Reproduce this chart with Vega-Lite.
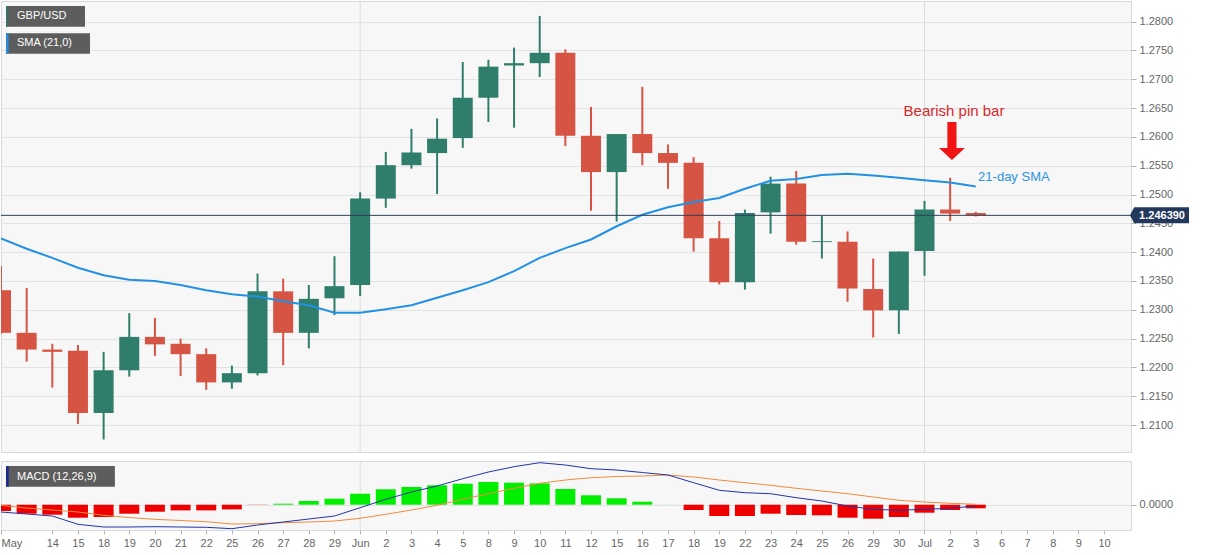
{
  "$schema": "https://vega.github.io/schema/vega-lite/v6.json",
  "padding": 0,
  "background": "#ffffff",
  "spacing": 7,
  "datasets": {
    "days": [
      {"i":0,"d":"2020-05-12","open":1.2334,"high":1.2376,"low":1.2258,"close":1.2260,"sma":1.2424,"macd":-0.00073,"signal":-0.00006,"hist":-0.00063},
      {"i":1,"d":"2020-05-13","open":1.2260,"high":1.2338,"low":1.2210,"close":1.2231,"sma":1.2406,"macd":-0.00093,"signal":-0.00033,"hist":-0.0009},
      {"i":2,"d":"2020-05-14","open":1.2231,"high":1.2241,"low":1.2165,"close":1.2227,"sma":1.2390,"macd":-0.00113,"signal":-0.00053,"hist":-0.001},
      {"i":3,"d":"2020-05-15","open":1.2229,"high":1.2239,"low":1.2102,"close":1.2121,"sma":1.2373,"macd":-0.00196,"signal":-0.00073,"hist":-0.0013},
      {"i":4,"d":"2020-05-18","open":1.2121,"high":1.2227,"low":1.2075,"close":1.2195,"sma":1.2360,"macd":-0.00223,"signal":-0.00106,"hist":-0.00123},
      {"i":5,"d":"2020-05-19","open":1.2195,"high":1.2294,"low":1.2184,"close":1.2253,"sma":1.2352,"macd":-0.00223,"signal":-0.00128,"hist":-0.0009},
      {"i":6,"d":"2020-05-20","open":1.2253,"high":1.2286,"low":1.2220,"close":1.2240,"sma":1.2350,"macd":-0.0022,"signal":-0.00146,"hist":-0.0007},
      {"i":7,"d":"2020-05-21","open":1.2241,"high":1.2250,"low":1.2185,"close":1.2223,"sma":1.2343,"macd":-0.00223,"signal":-0.00158,"hist":-0.00057},
      {"i":8,"d":"2020-05-22","open":1.2223,"high":1.2233,"low":1.2161,"close":1.2174,"sma":1.2334,"macd":-0.00226,"signal":-0.0017,"hist":-0.00057},
      {"i":9,"d":"2020-05-25","open":1.2174,"high":1.2203,"low":1.2163,"close":1.2190,"sma":1.2327,"macd":-0.0024,"signal":-0.00193,"hist":-0.00047},
      {"i":10,"d":"2020-05-26","open":1.2190,"high":1.2363,"low":1.2186,"close":1.2332,"sma":1.2323,"macd":-0.00203,"signal":-0.0019,"hist":-0.00002},
      {"i":11,"d":"2020-05-27","open":1.2332,"high":1.2354,"low":1.2204,"close":1.2260,"sma":1.2315,"macd":-0.00173,"signal":-0.0018,"hist":0.0001},
      {"i":12,"d":"2020-05-28","open":1.2260,"high":1.2343,"low":1.2233,"close":1.2319,"sma":1.2308,"macd":-0.00143,"signal":-0.00173,"hist":0.00037},
      {"i":13,"d":"2020-05-29","open":1.2320,"high":1.2393,"low":1.2291,"close":1.2341,"sma":1.2295,"macd":-0.00113,"signal":-0.00163,"hist":0.0006},
      {"i":14,"d":"2020-06-01","open":1.2343,"high":1.2504,"low":1.2324,"close":1.2493,"sma":1.2295,"macd":-0.0003,"signal":-0.00136,"hist":0.0011},
      {"i":15,"d":"2020-06-02","open":1.2493,"high":1.2574,"low":1.2477,"close":1.2551,"sma":1.2301,"macd":0.00054,"signal":-0.00096,"hist":0.00154},
      {"i":16,"d":"2020-06-03","open":1.2551,"high":1.2614,"low":1.2545,"close":1.2573,"sma":1.2308,"macd":0.00127,"signal":-0.00053,"hist":0.00177},
      {"i":17,"d":"2020-06-04","open":1.2572,"high":1.2632,"low":1.2501,"close":1.2597,"sma":1.2321,"macd":0.00187,"signal":-0.00006,"hist":0.00194},
      {"i":18,"d":"2020-06-05","open":1.2598,"high":1.2730,"low":1.2581,"close":1.2668,"sma":1.2334,"macd":0.0026,"signal":0.00054,"hist":0.0021},
      {"i":19,"d":"2020-06-08","open":1.2668,"high":1.2734,"low":1.2626,"close":1.2722,"sma":1.2348,"macd":0.00327,"signal":0.0011,"hist":0.00227},
      {"i":20,"d":"2020-06-09","open":1.2724,"high":1.2755,"low":1.2616,"close":1.2728,"sma":1.2367,"macd":0.0038,"signal":0.00164,"hist":0.0022},
      {"i":21,"d":"2020-06-10","open":1.2728,"high":1.2810,"low":1.2704,"close":1.2746,"sma":1.2390,"macd":0.0042,"signal":0.00214,"hist":0.00213},
      {"i":22,"d":"2020-06-11","open":1.2746,"high":1.2752,"low":1.2584,"close":1.2602,"sma":1.2407,"macd":0.00397,"signal":0.00247,"hist":0.00157},
      {"i":23,"d":"2020-06-12","open":1.2602,"high":1.2652,"low":1.2472,"close":1.2539,"sma":1.2422,"macd":0.0036,"signal":0.0027,"hist":0.00094},
      {"i":24,"d":"2020-06-15","open":1.2539,"high":1.2605,"low":1.2453,"close":1.2605,"sma":1.2445,"macd":0.00347,"signal":0.00282,"hist":0.00064},
      {"i":25,"d":"2020-06-16","open":1.2605,"high":1.2687,"low":1.2551,"close":1.2572,"sma":1.2465,"macd":0.00322,"signal":0.00287,"hist":0.0003},
      {"i":26,"d":"2020-06-17","open":1.2572,"high":1.2587,"low":1.2510,"close":1.2555,"sma":1.2478,"macd":0.00297,"signal":0.00297,"hist":0.00001},
      {"i":27,"d":"2020-06-18","open":1.2555,"high":1.2565,"low":1.2401,"close":1.2424,"sma":1.2487,"macd":0.0022,"signal":0.00277,"hist":-0.00053},
      {"i":28,"d":"2020-06-19","open":1.2424,"high":1.2454,"low":1.2344,"close":1.2348,"sma":1.2494,"macd":0.00144,"signal":0.00247,"hist":-0.00113},
      {"i":29,"d":"2020-06-22","open":1.2348,"high":1.2474,"low":1.2335,"close":1.2468,"sma":1.2510,"macd":0.0012,"signal":0.0022,"hist":-0.00113},
      {"i":30,"d":"2020-06-23","open":1.2469,"high":1.2531,"low":1.2432,"close":1.2519,"sma":1.2524,"macd":0.0011,"signal":0.00194,"hist":-0.0009},
      {"i":31,"d":"2020-06-24","open":1.2519,"high":1.2541,"low":1.2413,"close":1.2418,"sma":1.2527,"macd":0.0007,"signal":0.00164,"hist":-0.00103},
      {"i":32,"d":"2020-06-25","open":1.24175,"high":1.2463,"low":1.2389,"close":1.2419,"sma":1.2534,"macd":0.00037,"signal":0.00137,"hist":-0.00106},
      {"i":33,"d":"2020-06-26","open":1.2418,"high":1.2436,"low":1.2314,"close":1.2337,"sma":1.2536,"macd":-0.00013,"signal":0.0011,"hist":-0.0013},
      {"i":34,"d":"2020-06-29","open":1.2336,"high":1.2389,"low":1.2252,"close":1.2299,"sma":1.2533,"macd":-0.00046,"signal":0.00077,"hist":-0.0014},
      {"i":35,"d":"2020-06-30","open":1.2299,"high":1.2401,"low":1.2258,"close":1.2401,"sma":1.2529,"macd":-0.00056,"signal":0.00044,"hist":-0.00123},
      {"i":36,"d":"2020-07-01","open":1.2402,"high":1.2489,"low":1.2359,"close":1.2474,"sma":1.2525,"macd":-0.00046,"signal":0.00027,"hist":-0.0008},
      {"i":37,"d":"2020-07-02","open":1.2474,"high":1.2529,"low":1.2454,"close":1.2467,"sma":1.2521,"macd":-0.00036,"signal":0.00014,"hist":-0.00053},
      {"i":38,"d":"2020-07-03","open":1.2468,"high":1.2470,"low":1.2462,"close":1.24639,"sma":1.2514,"macd":-0.00013,"signal":0.00004,"hist":-0.00036}
    ],
    "months": [{"i":14,"m":"Jun"},{"i":36,"m":"Jul"}],
    "last": [{"price":1.24639,"label":"1.246390"}]
  },
  "config": {
    "view": {"fill": "#f7f7f7", "stroke": "#d6d9e0", "strokeWidth": 1},
    "axis": {"labelFont": "Liberation Sans", "labelFontSize": 11, "labelColor": "#666666", "tickColor": "#b5b5b5", "gridColor": "#e3e3e3", "domain": false, "labelOverlap": false}
  },
  "resolve": {"scale": {"x": "independent", "y": "independent"}},
  "vconcat": [
    {
      "width": 1130,
      "height": 451,
      "layer": [
        {
          "data": {"name": "months"},
          "mark": {"type": "rule", "color": "#dcdcdc", "strokeWidth": 1},
          "encoding": {
            "x": {"field": "i", "type": "quantitative", "scale": {"domain": [0, 44.05], "nice": false, "zero": false, "padding": 0}, "axis": null}
          }
        },
        {
          "data": {"name": "days"},
          "mark": {"type": "rule", "strokeWidth": 2, "clip": true},
          "encoding": {
            "x": {"field": "i", "type": "quantitative", "axis": null, "scale": {"domain": [0, 44.05], "nice": false, "zero": false, "padding": 0}},
            "y": {"field": "low", "type": "quantitative", "title": null, "scale": {"domain": [1.20532, 1.28359], "nice": false, "zero": false, "padding": 0},
                  "axis": {"orient": "right", "values": [1.21, 1.215, 1.22, 1.225, 1.23, 1.235, 1.24, 1.245, 1.25, 1.255, 1.26, 1.265, 1.27, 1.275, 1.28], "format": ".4f", "grid": true, "tickSize": 5, "labelPadding": 3, "labelOverlap": false, "title": null}},
            "y2": {"field": "high"},
            "color": {"condition": {"test": "datum.close >= datum.open", "value": "#2f7e6c"}, "value": "#d65443"}
          }
        },
        {
          "data": {"name": "days"},
          "mark": {"type": "bar", "width": 20, "clip": true},
          "encoding": {
            "x": {"field": "i", "type": "quantitative", "axis": null, "scale": {"domain": [0, 44.05], "nice": false, "zero": false, "padding": 0}},
            "y": {"field": "open", "type": "quantitative", "title": null, "axis": {"orient": "right", "values": [1.21, 1.215, 1.22, 1.225, 1.23, 1.235, 1.24, 1.245, 1.25, 1.255, 1.26, 1.265, 1.27, 1.275, 1.28], "format": ".4f", "grid": true, "tickSize": 5, "labelPadding": 3, "labelOverlap": false, "title": null}},
            "y2": {"field": "close"},
            "color": {"condition": {"test": "datum.close >= datum.open", "value": "#2f7e6c"}, "value": "#d65443"}
          }
        },
        {
          "data": {"name": "days"},
          "mark": {"type": "line", "color": "#2391e3", "strokeWidth": 2, "clip": true},
          "encoding": {
            "x": {"field": "i", "type": "quantitative", "axis": null},
            "y": {"field": "sma", "type": "quantitative", "title": null, "axis": {"orient": "right", "values": [1.21, 1.215, 1.22, 1.225, 1.23, 1.235, 1.24, 1.245, 1.25, 1.255, 1.26, 1.265, 1.27, 1.275, 1.28], "format": ".4f", "grid": true, "tickSize": 5, "labelPadding": 3, "labelOverlap": false, "title": null}}
          }
        },
        {
          "data": {"name": "last"},
          "mark": {"type": "rule", "color": "#2e3f5a", "strokeWidth": 1},
          "encoding": {
            "y": {"field": "price", "type": "quantitative", "title": null, "axis": {"orient": "right", "values": [1.21, 1.215, 1.22, 1.225, 1.23, 1.235, 1.24, 1.245, 1.25, 1.255, 1.26, 1.265, 1.27, 1.275, 1.28], "format": ".4f", "grid": true, "tickSize": 5, "labelPadding": 3, "labelOverlap": false, "title": null}}
          }
        },
        {
          "data": {"values": [{}]},
          "mark": {"type": "point", "shape": "M-0.24,-1 L0.24,-1 L0.24,0.37 L0.68,0.37 L0,1 L-0.68,0.37 L-0.24,0.37 Z", "size": 1444, "filled": true, "color": "#f01414", "opacity": 1, "strokeWidth": 0},
          "encoding": {
            "x": {"datum": 37.07, "type": "quantitative", "axis": null},
            "y": {"datum": 1.2593, "type": "quantitative", "title": null, "axis": {"orient": "right", "values": [1.21, 1.215, 1.22, 1.225, 1.23, 1.235, 1.24, 1.245, 1.25, 1.255, 1.26, 1.265, 1.27, 1.275, 1.28], "format": ".4f", "grid": true, "tickSize": 5, "labelPadding": 3, "labelOverlap": false, "title": null}}
          }
        },
        {
          "data": {"values": [{}]},
          "mark": {"type": "text", "text": "Bearish pin bar", "font": "Liberation Sans", "fontSize": 15, "color": "#d42a2a", "align": "center", "baseline": "middle"},
          "encoding": {
            "x": {"datum": 37.15, "type": "quantitative", "axis": null},
            "y": {"datum": 1.2645, "type": "quantitative", "title": null, "axis": {"orient": "right", "values": [1.21, 1.215, 1.22, 1.225, 1.23, 1.235, 1.24, 1.245, 1.25, 1.255, 1.26, 1.265, 1.27, 1.275, 1.28], "format": ".4f", "grid": true, "tickSize": 5, "labelPadding": 3, "labelOverlap": false, "title": null}}
          }
        },
        {
          "data": {"values": [{}]},
          "mark": {"type": "text", "text": "21-day SMA", "font": "Liberation Sans", "fontSize": 13, "color": "#2b93e0", "align": "left", "baseline": "middle"},
          "encoding": {
            "x": {"datum": 38.09, "type": "quantitative", "axis": null},
            "y": {"datum": 1.25313, "type": "quantitative", "title": null, "axis": {"orient": "right", "values": [1.21, 1.215, 1.22, 1.225, 1.23, 1.235, 1.24, 1.245, 1.25, 1.255, 1.26, 1.265, 1.27, 1.275, 1.28], "format": ".4f", "grid": true, "tickSize": 5, "labelPadding": 3, "labelOverlap": false, "title": null}}
          }
        },
        {
          "data": {"values": [{"label": "GBP/USD", "x1": 0.195, "x2": 3.275, "y1": 1.282725, "y2": 1.27913, "yt": 1.28094, "stripe": "#3f6f66"}, {"label": "SMA (21,0)", "x1": 0.195, "x2": 3.47, "y1": 1.27799, "y2": 1.27445, "yt": 1.27622, "stripe": "#2a8ad4"}]},
          "layer": [
            {
              "mark": {"type": "rect", "color": "#5d5d5d"},
              "encoding": {
                "x": {"field": "x1", "type": "quantitative", "axis": null},
                "x2": {"field": "x2"},
                "y": {"field": "y1", "type": "quantitative", "title": null, "axis": {"orient": "right", "values": [1.21, 1.215, 1.22, 1.225, 1.23, 1.235, 1.24, 1.245, 1.25, 1.255, 1.26, 1.265, 1.27, 1.275, 1.28], "format": ".4f", "grid": true, "tickSize": 5, "labelPadding": 3, "labelOverlap": false, "title": null}},
                "y2": {"field": "y2"}
              }
            },
            {
              "mark": {"type": "rect"},
              "encoding": {
                "x": {"field": "x1", "type": "quantitative", "axis": null},
                "x2": {"datum": 0.3},
                "y": {"field": "y1", "type": "quantitative", "title": null, "axis": {"orient": "right", "values": [1.21, 1.215, 1.22, 1.225, 1.23, 1.235, 1.24, 1.245, 1.25, 1.255, 1.26, 1.265, 1.27, 1.275, 1.28], "format": ".4f", "grid": true, "tickSize": 5, "labelPadding": 3, "labelOverlap": false, "title": null}},
                "y2": {"field": "y2"},
                "color": {"field": "stripe", "type": "nominal", "scale": null}
              }
            },
            {
              "mark": {"type": "text", "font": "Liberation Sans", "fontSize": 11, "color": "#ffffff", "align": "left", "baseline": "middle", "dx": 11},
              "encoding": {
                "x": {"field": "x1", "type": "quantitative", "axis": null},
                "y": {"field": "yt", "type": "quantitative", "title": null, "axis": {"orient": "right", "values": [1.21, 1.215, 1.22, 1.225, 1.23, 1.235, 1.24, 1.245, 1.25, 1.255, 1.26, 1.265, 1.27, 1.275, 1.28], "format": ".4f", "grid": true, "tickSize": 5, "labelPadding": 3, "labelOverlap": false, "title": null}},
                "text": {"field": "label"}
              }
            }
          ]
        },
        {
          "data": {"name": "last"},
          "layer": [
            {
              "mark": {"type": "point", "shape": "M-1,0 L-0.86,-0.267 L0.967,-0.267 L0.967,0.267 L-0.86,0.267 Z", "size": 3600, "filled": true, "color": "#23395b", "opacity": 1, "strokeWidth": 0, "clip": false},
              "encoding": {
                "x": {"datum": 45.18, "type": "quantitative", "axis": null},
                "y": {"field": "price", "type": "quantitative", "title": null, "axis": {"orient": "right", "values": [1.21, 1.215, 1.22, 1.225, 1.23, 1.235, 1.24, 1.245, 1.25, 1.255, 1.26, 1.265, 1.27, 1.275, 1.28], "format": ".4f", "grid": true, "tickSize": 5, "labelPadding": 3, "labelOverlap": false, "title": null}}
              }
            },
            {
              "mark": {"type": "text", "font": "Liberation Sans", "fontSize": 11, "fontWeight": "bold", "color": "#ffffff", "align": "center", "baseline": "middle", "dy": 1, "clip": false},
              "encoding": {
                "x": {"datum": 45.26, "type": "quantitative", "axis": null},
                "y": {"field": "price", "type": "quantitative", "title": null, "axis": {"orient": "right", "values": [1.21, 1.215, 1.22, 1.225, 1.23, 1.235, 1.24, 1.245, 1.25, 1.255, 1.26, 1.265, 1.27, 1.275, 1.28], "format": ".4f", "grid": true, "tickSize": 5, "labelPadding": 3, "labelOverlap": false, "title": null}},
                "text": {"field": "label"}
              }
            }
          ]
        }
      ]
    },
    {
      "width": 1130,
      "height": 69,
      "layer": [
        {
          "data": {"name": "months"},
          "mark": {"type": "rule", "color": "#dcdcdc", "strokeWidth": 1},
          "encoding": {
            "x": {"field": "i", "type": "quantitative", "title": null, "scale": {"domain": [0, 44.05], "nice": false, "zero": false, "padding": 0},
                  "axis": {"values": [0,2,3,4,5,6,7,8,9,10,11,12,13,14,15,16,17,18,19,20,21,22,23,24,25,26,27,28,29,30,31,32,33,34,35,36,37,38,39,40,41,42,43], "labelExpr": "['May','13','14','15','18','19','20','21','22','25','26','27','28','29','Jun','2','3','4','5','8','9','10','11','12','15','16','17','18','19','22','23','24','25','26','29','30','Jul','2','3','6','7','8','9','10'][datum.value]", "labelFlush": true, "labelOverlap": false, "grid": false, "tickSize": 4, "labelPadding": 3, "title": null}}
          }
        },
        {
          "data": {"name": "days"},
          "mark": {"type": "bar", "width": 20, "clip": true},
          "encoding": {
            "x": {"field": "i", "type": "quantitative", "title": null, "scale": {"domain": [0, 44.05], "nice": false, "zero": false, "padding": 0},
                  "axis": {"values": [0,2,3,4,5,6,7,8,9,10,11,12,13,14,15,16,17,18,19,20,21,22,23,24,25,26,27,28,29,30,31,32,33,34,35,36,37,38,39,40,41,42,43], "labelExpr": "['May','13','14','15','18','19','20','21','22','25','26','27','28','29','Jun','2','3','4','5','8','9','10','11','12','15','16','17','18','19','22','23','24','25','26','29','30','Jul','2','3','6','7','8','9','10'][datum.value]", "labelFlush": true, "labelOverlap": false, "grid": false, "tickSize": 4, "labelPadding": 3, "title": null}},
            "y": {"field": "hist", "type": "quantitative", "title": null, "scale": {"domain": [-0.00253, 0.00437], "nice": false, "zero": true, "padding": 0},
                  "axis": {"orient": "right", "values": [0], "format": ".4f", "grid": true, "tickSize": 5, "labelPadding": 3, "labelOverlap": false, "title": null}},
            "color": {"condition": {"test": "datum.hist >= 0", "value": "#00ee00"}, "value": "#ee0000"}
          }
        },
        {
          "data": {"name": "days"},
          "mark": {"type": "line", "color": "#f28a3c", "strokeWidth": 1, "clip": true},
          "encoding": {
            "x": {"field": "i", "type": "quantitative", "title": null,
                  "axis": {"values": [0,2,3,4,5,6,7,8,9,10,11,12,13,14,15,16,17,18,19,20,21,22,23,24,25,26,27,28,29,30,31,32,33,34,35,36,37,38,39,40,41,42,43], "labelExpr": "['May','13','14','15','18','19','20','21','22','25','26','27','28','29','Jun','2','3','4','5','8','9','10','11','12','15','16','17','18','19','22','23','24','25','26','29','30','Jul','2','3','6','7','8','9','10'][datum.value]", "labelFlush": true, "labelOverlap": false, "grid": false, "tickSize": 4, "labelPadding": 3, "title": null}},
            "y": {"field": "signal", "type": "quantitative", "title": null,
                  "axis": {"orient": "right", "values": [0], "format": ".4f", "grid": true, "tickSize": 5, "labelPadding": 3, "labelOverlap": false, "title": null}}
          }
        },
        {
          "data": {"name": "days"},
          "mark": {"type": "line", "color": "#2233a8", "strokeWidth": 1, "clip": true},
          "encoding": {
            "x": {"field": "i", "type": "quantitative", "title": null,
                  "axis": {"values": [0,2,3,4,5,6,7,8,9,10,11,12,13,14,15,16,17,18,19,20,21,22,23,24,25,26,27,28,29,30,31,32,33,34,35,36,37,38,39,40,41,42,43], "labelExpr": "['May','13','14','15','18','19','20','21','22','25','26','27','28','29','Jun','2','3','4','5','8','9','10','11','12','15','16','17','18','19','22','23','24','25','26','29','30','Jul','2','3','6','7','8','9','10'][datum.value]", "labelFlush": true, "labelOverlap": false, "grid": false, "tickSize": 4, "labelPadding": 3, "title": null}},
            "y": {"field": "macd", "type": "quantitative", "title": null,
                  "axis": {"orient": "right", "values": [0], "format": ".4f", "grid": true, "tickSize": 5, "labelPadding": 3, "labelOverlap": false, "title": null}}
          }
        },
        {
          "data": {"values": [{"label": "MACD (12,26,9)", "x1": 0.195, "x2": 4.44, "y1": 0.00387, "y2": 0.0018, "yt": 0.00277}]},
          "layer": [
            {
              "mark": {"type": "rect", "color": "#5d5d5d"},
              "encoding": {
                "x": {"field": "x1", "type": "quantitative", "title": null,
                      "axis": {"values": [0,2,3,4,5,6,7,8,9,10,11,12,13,14,15,16,17,18,19,20,21,22,23,24,25,26,27,28,29,30,31,32,33,34,35,36,37,38,39,40,41,42,43], "labelExpr": "['May','13','14','15','18','19','20','21','22','25','26','27','28','29','Jun','2','3','4','5','8','9','10','11','12','15','16','17','18','19','22','23','24','25','26','29','30','Jul','2','3','6','7','8','9','10'][datum.value]", "labelFlush": true, "labelOverlap": false, "grid": false, "tickSize": 4, "labelPadding": 3, "title": null}},
                "x2": {"field": "x2"},
                "y": {"field": "y1", "type": "quantitative", "title": null,
                      "axis": {"orient": "right", "values": [0], "format": ".4f", "grid": true, "tickSize": 5, "labelPadding": 3, "labelOverlap": false, "title": null}},
                "y2": {"field": "y2"}
              }
            },
            {
              "mark": {"type": "rect", "color": "#1c2b8c"},
              "encoding": {
                "x": {"field": "x1", "type": "quantitative", "title": null,
                      "axis": {"values": [0,2,3,4,5,6,7,8,9,10,11,12,13,14,15,16,17,18,19,20,21,22,23,24,25,26,27,28,29,30,31,32,33,34,35,36,37,38,39,40,41,42,43], "labelExpr": "['May','13','14','15','18','19','20','21','22','25','26','27','28','29','Jun','2','3','4','5','8','9','10','11','12','15','16','17','18','19','22','23','24','25','26','29','30','Jul','2','3','6','7','8','9','10'][datum.value]", "labelFlush": true, "labelOverlap": false, "grid": false, "tickSize": 4, "labelPadding": 3, "title": null}},
                "x2": {"datum": 0.3},
                "y": {"field": "y1", "type": "quantitative", "title": null,
                      "axis": {"orient": "right", "values": [0], "format": ".4f", "grid": true, "tickSize": 5, "labelPadding": 3, "labelOverlap": false, "title": null}},
                "y2": {"field": "y2"}
              }
            },
            {
              "mark": {"type": "text", "font": "Liberation Sans", "fontSize": 11, "color": "#ffffff", "align": "left", "baseline": "middle", "dx": 11},
              "encoding": {
                "x": {"field": "x1", "type": "quantitative", "title": null,
                      "axis": {"values": [0,2,3,4,5,6,7,8,9,10,11,12,13,14,15,16,17,18,19,20,21,22,23,24,25,26,27,28,29,30,31,32,33,34,35,36,37,38,39,40,41,42,43], "labelExpr": "['May','13','14','15','18','19','20','21','22','25','26','27','28','29','Jun','2','3','4','5','8','9','10','11','12','15','16','17','18','19','22','23','24','25','26','29','30','Jul','2','3','6','7','8','9','10'][datum.value]", "labelFlush": true, "labelOverlap": false, "grid": false, "tickSize": 4, "labelPadding": 3, "title": null}},
                "y": {"field": "yt", "type": "quantitative", "title": null,
                      "axis": {"orient": "right", "values": [0], "format": ".4f", "grid": true, "tickSize": 5, "labelPadding": 3, "labelOverlap": false, "title": null}},
                "text": {"field": "label"}
              }
            }
          ]
        }
      ]
    }
  ]
}
